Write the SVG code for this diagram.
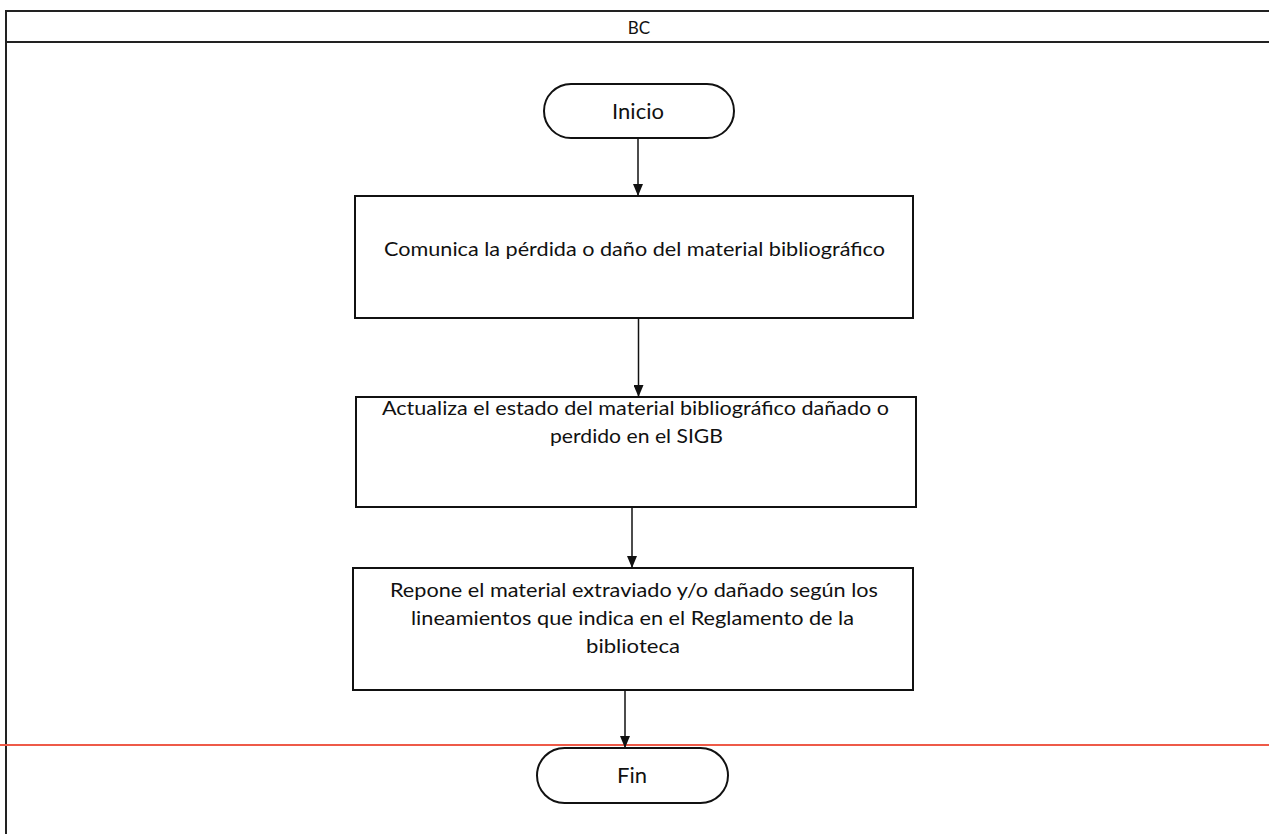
<svg xmlns="http://www.w3.org/2000/svg" width="1269" height="834" viewBox="0 0 1269 834">
<style>
.frame{fill:none;stroke:#222;stroke-width:2}
.node{fill:#fff;stroke:#111;stroke-width:2}
.lbl{font-family:Lato,"Open Sans","Liberation Sans",sans-serif;font-size:20px;fill:#111;text-anchor:middle}
.term{font-size:22px}
.conn{fill:none;stroke:#111;stroke-width:1.5;marker-end:url(#arr)}
</style>
<defs>
<marker id="arr" viewBox="0 0 12 10" refX="12" refY="5" markerWidth="12" markerHeight="10" markerUnits="userSpaceOnUse" orient="auto">
<path d="M0,0 L12,5 L0,10 Z" fill="#111"/>
</marker>
</defs>
<rect width="1269" height="834" fill="#fff"/>
<g id="lane">
<line class="frame" x1="6" y1="11" x2="1269" y2="11"/>
<line class="frame" x1="6" y1="42" x2="1269" y2="42"/>
<line class="frame" x1="6" y1="10" x2="6" y2="834"/>
<text class="lbl" x="639" y="34" style="font-size:17px">BC</text>
<line x1="0" y1="745" x2="1269" y2="745" stroke="#ee5a48" stroke-width="2"/>
</g>
<g id="inicio">
<rect class="node" x="544" y="84" width="190" height="54" rx="27" ry="27"/>
<text class="lbl term" x="638" y="119">Inicio</text>
</g>
<g id="comunica">
<rect class="node" x="355" y="196" width="558" height="122"/>
<text class="lbl" x="634.5" y="256" textLength="501" lengthAdjust="spacingAndGlyphs">Comunica la pérdida o daño del material bibliográfico</text>
</g>
<g id="actualiza">
<rect class="node" x="356" y="397" width="560" height="110"/>
<text class="lbl" x="635.5" y="415" textLength="507" lengthAdjust="spacingAndGlyphs">Actualiza el estado del material bibliográfico dañado o</text>
<text class="lbl" x="636.5" y="443" textLength="173" lengthAdjust="spacingAndGlyphs">perdido en el SIGB</text>
</g>
<g id="repone">
<rect class="node" x="353" y="568" width="560" height="122"/>
<text class="lbl" x="634" y="597" textLength="488" lengthAdjust="spacingAndGlyphs">Repone el material extraviado y/o dañado según los</text>
<text class="lbl" x="632.5" y="625" textLength="443" lengthAdjust="spacingAndGlyphs">lineamientos que indica en el Reglamento de la</text>
<text class="lbl" x="633" y="653" textLength="94" lengthAdjust="spacingAndGlyphs">biblioteca</text>
</g>
<g id="fin">
<rect class="node" x="537" y="748" width="191" height="55" rx="27.5" ry="27.5"/>
<text class="lbl term" x="632" y="783">Fin</text>
</g>
<g id="connectors">
<path class="conn" d="M638,139 V196"/>
<path class="conn" d="M638.5,319 V397"/>
<path class="conn" d="M632,508 V568"/>
<path class="conn" d="M625,691 V748"/>
</g>
</svg>
